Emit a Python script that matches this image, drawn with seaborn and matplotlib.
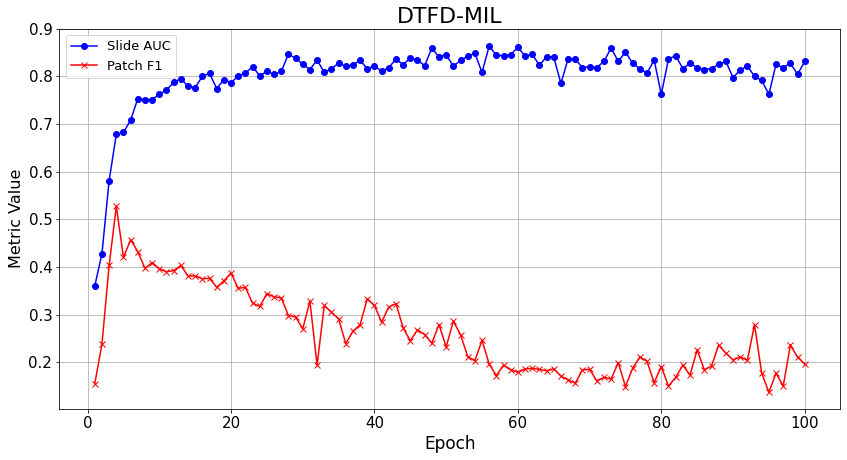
import matplotlib
matplotlib.use('Agg')
import matplotlib.pyplot as plt
import seaborn as sns
import numpy as np

epochs = list(range(1, 101))

slide_auc = [
    0.360, 0.428, 0.581, 0.678, 0.682, 0.708, 0.753, 0.751, 0.751, 0.762,
    0.771, 0.787, 0.795, 0.779, 0.776, 0.800, 0.806, 0.774, 0.793, 0.786,
    0.801, 0.806, 0.820, 0.801, 0.810, 0.804, 0.810, 0.846, 0.838, 0.825,
    0.814, 0.834, 0.808, 0.816, 0.827, 0.821, 0.823, 0.834, 0.815, 0.822,
    0.810, 0.818, 0.836, 0.824, 0.838, 0.834, 0.822, 0.859, 0.840, 0.845,
    0.821, 0.833, 0.842, 0.848, 0.808, 0.863, 0.844, 0.843, 0.845, 0.861,
    0.842, 0.846, 0.823, 0.841, 0.840, 0.785, 0.836, 0.836, 0.818, 0.820,
    0.818, 0.831, 0.859, 0.831, 0.851, 0.827, 0.816, 0.806, 0.834, 0.762,
    0.836, 0.843, 0.816, 0.827, 0.818, 0.814, 0.816, 0.825, 0.831, 0.797,
    0.813, 0.821, 0.800, 0.791, 0.762, 0.825, 0.818, 0.827, 0.804, 0.831,
]

patch_f1 = [
    0.155, 0.238, 0.403, 0.527, 0.420, 0.457, 0.432, 0.397, 0.409, 0.396,
    0.390, 0.392, 0.403, 0.381, 0.381, 0.375, 0.376, 0.357, 0.371, 0.387,
    0.355, 0.357, 0.324, 0.317, 0.344, 0.337, 0.335, 0.298, 0.295, 0.270,
    0.328, 0.194, 0.319, 0.305, 0.291, 0.239, 0.265, 0.279, 0.333, 0.319,
    0.284, 0.316, 0.323, 0.272, 0.245, 0.268, 0.258, 0.240, 0.279, 0.232,
    0.286, 0.258, 0.212, 0.203, 0.246, 0.196, 0.172, 0.194, 0.184, 0.179,
    0.186, 0.187, 0.185, 0.182, 0.186, 0.171, 0.163, 0.156, 0.184, 0.185,
    0.161, 0.168, 0.165, 0.199, 0.149, 0.187, 0.211, 0.202, 0.157, 0.191,
    0.150, 0.168, 0.194, 0.173, 0.226, 0.184, 0.192, 0.236, 0.219, 0.205,
    0.211, 0.204, 0.279, 0.177, 0.137, 0.177, 0.150, 0.236, 0.211, 0.196,
]

fig, ax = plt.subplots(figsize=(847 / 72, 460 / 72), dpi=72)
fig.subplots_adjust(left=0.070, right=0.992, top=0.938, bottom=0.111)

# seaborn puts a white edge on markers by default, so set it back
sns.lineplot(x=epochs, y=slide_auc, ax=ax, color='blue', marker='o',
             markersize=6, markeredgecolor='blue', markeredgewidth=1,
             linewidth=1.5, label='Slide AUC')
sns.lineplot(x=epochs, y=patch_f1, ax=ax, color='red', marker='x',
             markersize=6, markeredgecolor='red', markeredgewidth=1,
             linewidth=1.5, label='Patch F1')

ax.set_title('DTFD-MIL', fontsize=22)
ax.set_xlabel('Epoch', fontsize=17)
ax.set_ylabel('Metric Value', fontsize=16)
ax.tick_params(labelsize=15)
ax.set_xticks([0, 20, 40, 60, 80, 100])
ax.set_ylim(0.102, 0.9)
ax.grid(True, color='#b0b0b0', linewidth=0.8)
ax.legend(loc='upper left', fontsize=13)

fig.savefig('out.png', dpi=72)
